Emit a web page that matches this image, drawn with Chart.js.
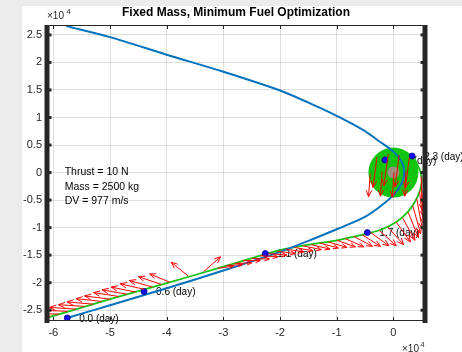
<!DOCTYPE html>
<html>
<head>
<meta charset="utf-8">
<script src="https://cdn.jsdelivr.net/npm/chart.js@4.4.1/dist/chart.umd.min.js"></script>
<style>
  html, body { margin: 0; padding: 0; background: #ececec; }
  #fig { position: absolute; left: 22px; top: 6px; width: 440px; height: 346px; background: #fff; }
  #wrap { position: absolute; left: 0; top: 0; width: 462px; height: 352px; }
</style>
</head>
<body>
<div id="fig"></div>
<div id="wrap"><canvas id="orbit"></canvas></div>
<script>
// all distances in units of 1e4 (the axis exponent)
const xTicks = [-6, -5, -4, -3, -2, -1, 0];
const yTicks = [-2.5, -2, -1.5, -1, -0.5, 0, 0.5, 1, 1.5, 2, 2.5];

// coast trajectory (blue)
const blueX = [-5.77, -5.0, -4.0, -3.0, -2.0, -1.5, -1.0, -0.53, -0.24, 0.0, 0.15, 0.19, 0.15, 0.0, -0.24, -0.53, -1.0, -1.5, -2.0, -3.0, -4.0, -5.0, -5.76];
const blueY = [2.66, 2.46, 2.14, 1.83, 1.49, 1.27, 1.03, 0.77, 0.56, 0.38, 0.19, 0.0, -0.19, -0.41, -0.62, -0.82, -1.03, -1.24, -1.44, -1.78, -2.10, -2.41, -2.64];

// optimized trajectory (green)
const greenX = [-6.12, -5.0, -4.0, -3.0, -2.0, -1.5, -1.0, -0.5, -0.2, 0.05, 0.25, 0.38, 0.46, 0.50, 0.48, 0.42, 0.33, 0.15, -0.05, -0.15];
const greenY = [-2.64, -2.30, -2.01, -1.71, -1.41, -1.31, -1.23, -1.12, -1.03, -0.90, -0.72, -0.53, -0.35, -0.17, 0.0, 0.15, 0.30, 0.37, 0.35, 0.23];

// day markers
const dayX = [-5.755, -4.40, -2.26, -0.46, -0.15, 0.33];
const dayY = [-2.64, -2.16, -1.47, -1.09, 0.23, 0.30];
const dayLabels = ['0.0 (day)', '0.6 (day)', '1.1 (day)', '1.7 (day)', '2.9 (day)', '2.3 (day)'];

// target body at the origin
const moonX = [0];
const moonY = [0];

// thrust direction (quiver): base point and vector
const arrowX = [-6.05, -5.90, -5.75, -5.60, -5.45, -5.30, -5.15, -5.00, -4.85, -4.70, -4.55, -4.40, -4.25, -4.10,
  -3.95, -3.62, -3.35,
  -3.10, -2.95, -2.80, -2.65, -2.50, -2.35, -2.20, -2.05, -1.90, -1.75, -1.60, -1.45, -1.30, -1.15,
  -1.00, -0.85, -0.70, -0.55, -0.40, -0.25, -0.10, 0.05, 0.16, 0.26, 0.34, 0.41, 0.46, 0.49, 0.49,
  0.28, 0.10, -0.09, -0.29, -0.41, -0.20, 0.01, 0.22];
const arrowY = [-2.61, -2.57, -2.52, -2.48, -2.43, -2.39, -2.34, -2.30, -2.25, -2.21, -2.17, -2.12, -2.08, -2.03,
  -1.99, -1.88, -1.80,
  -1.74, -1.69, -1.65, -1.60, -1.56, -1.51, -1.47, -1.43, -1.39, -1.36, -1.33, -1.31, -1.28, -1.26,
  -1.23, -1.20, -1.16, -1.13, -1.09, -1.05, -0.99, -0.90, -0.82, -0.72, -0.60, -0.47, -0.34, -0.21, -0.07,
  0.27, 0.32, 0.34, 0.28, -0.02, 0.02, 0.00, 0.02];
const arrowU = [-0.48, -0.48, -0.47, -0.47, -0.46, -0.46, -0.45, -0.45, -0.44, -0.44, -0.43, -0.42, -0.41, -0.40,
  -0.35, -0.30, 0.30,
  0.28, 0.29, 0.30, 0.30, 0.31, 0.31, 0.32, 0.32, 0.32, 0.33, 0.33, 0.33, 0.33, 0.33,
  0.33, 0.33, 0.33, 0.32, 0.32, 0.30, 0.28, 0.25, 0.22, 0.18, 0.14, 0.10, 0.07, 0.04, 0.02,
  -0.07, -0.07, -0.08, -0.07, -0.03, -0.03, -0.03, -0.02];
const arrowV = [0.00, 0.01, 0.02, 0.03, 0.03, 0.04, 0.05, 0.06, 0.07, 0.08, 0.09, 0.10, 0.12, 0.14,
  0.15, 0.25, 0.27,
  0.04, 0.02, 0.01, 0.0, -0.01, -0.02, -0.03, -0.04, -0.05, -0.06, -0.07, -0.08, -0.09, -0.10,
  -0.12, -0.15, -0.18, -0.21, -0.24, -0.28, -0.32, -0.36, -0.41, -0.46, -0.51, -0.55, -0.58, -0.60, -0.62,
  -0.55, -0.58, -0.58, -0.55, -0.42, -0.45, -0.45, -0.45];

const infoLines = ['Thrust = 10 N', 'Mass = 2500 kg', 'DV = 977 m/s'];
const infoAt = { x: -5.8, y: 0 };

const FONT = '"Liberation Sans", Arial, Helvetica, sans-serif';
const AXIS = '#262626';

function pts(xs, ys) {
  return xs.map((x, i) => ({ x: x, y: ys[i] }));
}
function px(chart, v) { return chart.scales.x.getPixelForValue(v); }
function py(chart, v) { return chart.scales.y.getPixelForValue(v); }

// text that sits under the markers (the moon disc covers part of it)
const textLayer = {
  id: 'textLayer',
  beforeDatasetsDraw(chart) {
    const ctx = chart.ctx;
    ctx.save();
    ctx.fillStyle = '#000';
    ctx.textBaseline = 'middle';
    ctx.font = '10px ' + FONT;
    dayLabels.forEach((t, i) => {
      ctx.fillText(t, px(chart, dayX[i]) + 12, py(chart, dayY[i]) + 1);
    });
    ctx.font = '10.5px ' + FONT;
    infoLines.forEach((t, i) => {
      ctx.fillText(t, px(chart, infoAt.x), py(chart, infoAt.y) + i * 14.5);
    });
    ctx.restore();
  }
};

// red thrust arrows
const arrowLayer = {
  id: 'arrowLayer',
  afterDatasetsDraw(chart) {
    const ctx = chart.ctx;
    const a = chart.chartArea;
    ctx.save();
    ctx.beginPath();
    ctx.rect(a.left, a.top, a.right - a.left, a.bottom - a.top);
    ctx.clip();
    ctx.strokeStyle = '#ff0000';
    ctx.lineWidth = 1;
    ctx.beginPath();
    for (let i = 0; i < arrowX.length; i++) {
      const x0 = px(chart, arrowX[i]), y0 = py(chart, arrowY[i]);
      const x1 = px(chart, arrowX[i] + arrowU[i]), y1 = py(chart, arrowY[i] + arrowV[i]);
      const len = Math.hypot(x1 - x0, y1 - y0);
      const ang = Math.atan2(y1 - y0, x1 - x0);
      const h = Math.min(7, len * 0.3);
      ctx.moveTo(x0, y0);
      ctx.lineTo(x1, y1);
      ctx.moveTo(x1 - h * Math.cos(ang - 0.4), y1 - h * Math.sin(ang - 0.4));
      ctx.lineTo(x1, y1);
      ctx.lineTo(x1 - h * Math.cos(ang + 0.4), y1 - h * Math.sin(ang + 0.4));
    }
    ctx.stroke();
    ctx.restore();
  }
};

// matlab style box: thin top/bottom, heavy left/right, inward ticks, title, exponents
const frameLayer = {
  id: 'frameLayer',
  afterDraw(chart) {
    const ctx = chart.ctx;
    const a = chart.chartArea;
    ctx.save();
    ctx.strokeStyle = AXIS;
    ctx.fillStyle = AXIS;
    ctx.lineWidth = 1;
    ctx.beginPath();
    ctx.moveTo(a.left, a.top + 0.5); ctx.lineTo(a.right, a.top + 0.5);
    ctx.moveTo(a.left, a.bottom - 0.5); ctx.lineTo(a.right, a.bottom - 0.5);
    xTicks.forEach(v => {
      const x = Math.round(px(chart, v)) + 0.5;
      ctx.moveTo(x, a.top); ctx.lineTo(x, a.top + 4);
      ctx.moveTo(x, a.bottom); ctx.lineTo(x, a.bottom - 4);
    });
    ctx.stroke();

    ctx.fillRect(a.left - 2.5, a.top, 5, a.bottom - a.top + 2);
    ctx.fillRect(a.right - 2.5, a.top, 5, a.bottom - a.top + 2);
    yTicks.forEach(v => {
      const y = py(chart, v);
      ctx.fillRect(a.left, y - 1.5, 4.5, 3);
      ctx.fillRect(a.right - 4.5, y - 1.5, 4.5, 3);
    });

    ctx.fillStyle = '#000';
    ctx.font = 'bold 12px ' + FONT;
    ctx.textAlign = 'center';
    ctx.textBaseline = 'middle';
    ctx.fillText('Fixed Mass, Minimum Fuel Optimization', (a.left + a.right) / 2, 13);

    ctx.fillStyle = AXIS;
    ctx.textAlign = 'left';
    ctx.textBaseline = 'alphabetic';
    ctx.font = '10px ' + FONT;
    ctx.fillText('\u00d710', a.left, 18.5);
    ctx.fillText('\u00d710', a.right - 23, 351.5);
    ctx.font = '7.5px ' + FONT;
    ctx.fillText('4', a.left + 19.5, 14);
    ctx.fillText('4', a.right - 4.5, 346.5);
    ctx.restore();
  }
};

const tickFont = { family: FONT, size: 11 };

new Chart(document.getElementById('orbit'), {
  type: 'scatter',
  data: {
    datasets: [
      {
        label: 'day marks',
        data: pts(dayX, dayY),
        pointRadius: 3,
        pointBackgroundColor: '#1010f0',
        pointBorderColor: '#00008c',
        pointBorderWidth: 0.8,
        order: 0
      },
      {
        label: 'coast',
        data: pts(blueX, blueY),
        showLine: true,
        borderColor: '#0072bd',
        borderWidth: 2,
        pointRadius: 0,
        tension: 0.3,
        order: 1
      },
      {
        label: 'optimal',
        data: pts(greenX, greenY),
        showLine: true,
        borderColor: '#14c414',
        borderWidth: 1.8,
        pointRadius: 0,
        tension: 0.3,
        order: 2
      },
      {
        label: 'core',
        data: pts(moonX, moonY),
        pointRadius: 6,
        pointBackgroundColor: 'rgba(172,138,138,0.9)',
        pointBorderWidth: 0,
        order: 3
      },
      {
        label: 'moon',
        data: pts(moonX, moonY),
        pointRadius: 25,
        pointBackgroundColor: '#10c410',
        pointBorderWidth: 0,
        order: 4
      }
    ]
  },
  options: {
    responsive: true,
    maintainAspectRatio: false,
    animation: false,
    events: [],
    layout: { padding: { top: 20, right: 37, left: 0, bottom: 0 } },
    plugins: {
      legend: { display: false },
      tooltip: { enabled: false }
    },
    scales: {
      x: {
        type: 'linear',
        min: -6.112,
        max: 0.557,
        afterBuildTicks: s => { s.ticks = xTicks.map(v => ({ value: v })); },
        afterFit: s => { s.height = 31; },
        grid: { color: 'rgba(38,38,38,0.15)', drawTicks: false },
        border: { display: false },
        ticks: { color: AXIS, font: tickFont, padding: 5, maxRotation: 0, callback: v => String(v) }
      },
      y: {
        type: 'linear',
        min: -2.696,
        max: 2.68,
        afterBuildTicks: s => { s.ticks = yTicks.map(v => ({ value: v })); },
        afterFit: s => { s.width = 47; },
        grid: { color: 'rgba(38,38,38,0.15)', drawTicks: false },
        border: { display: false },
        ticks: { color: AXIS, font: tickFont, padding: 5, callback: v => String(v) }
      }
    }
  },
  plugins: [textLayer, arrowLayer, frameLayer]
});
</script>
</body>
</html>
